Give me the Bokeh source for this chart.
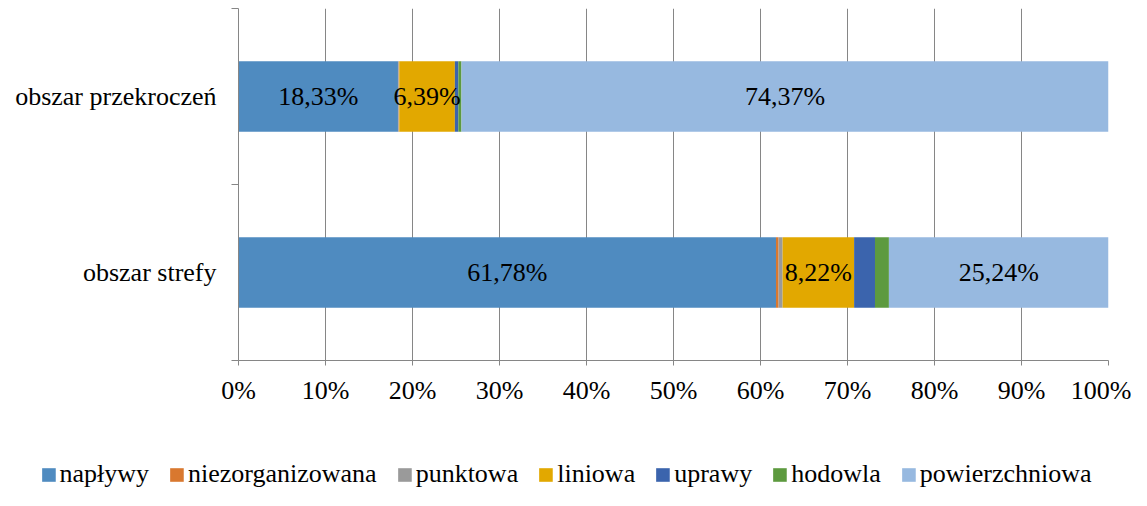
import numpy as np
from bokeh.plotting import figure
from bokeh.layouts import column
from bokeh.models import ColumnDataSource, FixedTicker, Legend, LegendItem, Range1d, LinearAxis
from bokeh.core.properties import value
from bokeh.embed import file_html
from bokeh.resources import INLINE

categories = ["obszar strefy", "obszar przekroczeń"]
series = ["napływy", "niezorganizowana", "punktowa", "liniowa", "uprawy", "hodowla", "powierzchniowa"]
colors = ["#4F8BC0", "#D9782F", "#9A9A9A", "#E2A800", "#3B64AD", "#5D9A3F", "#97B9E0"]
napływy = [61.78, 18.33]
niezorganizowana = [0.30, 0.05]
punktowa = [0.46, 0.10]
liniowa = [8.22, 6.39]
uprawy = [2.40, 0.40]
hodowla = [1.60, 0.36]
powierzchniowa = [25.24, 74.37]
x_ticks = [0, 10, 20, 30, 40, 50, 60, 70, 80, 90, 100]

FONT = "'Liberation Serif', 'Times New Roman', serif"
GRAY = "#868686"
FS = "26px"

vals = [napływy, niezorganizowana, punktowa, liniowa, uprawy, hodowla, powierzchniowa]
ypos = [i + 0.5 for i in range(len(categories))]
data = {"y": ypos}
for name, v in zip(series, vals):
    data[name] = v
src = ColumnDataSource(data)

p = figure(width=1131, height=458, output_backend="svg", toolbar_location=None,
           x_range=Range1d(0, 100), y_range=Range1d(0, len(categories)),
           min_border_left=238, min_border_right=23, min_border_top=8, min_border_bottom=98,
           x_axis_location=None, y_axis_location=None)
p.outline_line_color = None
p.frame_align = False

p.hbar_stack(series, y="y", height=0.4, source=src, color=colors, line_color=None)

# value labels
lx, ly, lt = [], [], []
arr = np.array(vals)
cum = np.cumsum(arr, axis=0)
for j in range(len(categories)):
    for i in range(len(series)):
        v = arr[i, j]
        if v >= 5:
            lx.append(cum[i, j] - v / 2)
            ly.append(ypos[j])
            lt.append(("%.2f" % v).replace(".", ",") + "%")
p.text(x=lx, y=ly, text=lt, text_font=value(FONT), text_font_size=FS,
       text_align="center", text_baseline="middle", text_color="black")

# x axis
xa = LinearAxis(ticker=FixedTicker(ticks=x_ticks))
xa.major_label_overrides = {t: f"{t}%" for t in x_ticks}
xa.axis_line_color = GRAY
xa.major_tick_line_color = GRAY
xa.major_tick_out = 5
xa.major_tick_in = 0
xa.minor_tick_line_color = None
xa.major_label_standoff = 10
xa.major_label_text_font = FONT
xa.major_label_text_font_size = FS
xa.major_label_text_color = "black"
p.add_layout(xa, "below")

# y axis (labels at centres, ticks at boundaries)
ya = LinearAxis(ticker=FixedTicker(ticks=ypos, minor_ticks=list(range(len(categories) + 1))))
ya.major_label_overrides = {y: c for y, c in zip(ypos, categories)}
ya.axis_line_color = GRAY
ya.major_tick_line_color = None
ya.major_tick_out = 0
ya.major_tick_in = 0
ya.minor_tick_line_color = GRAY
ya.minor_tick_out = 7
ya.minor_tick_in = 0
ya.major_label_standoff = 15
ya.major_label_text_font = FONT
ya.major_label_text_font_size = FS
ya.major_label_text_color = "black"
p.add_layout(ya, "left")

p.xgrid.ticker = FixedTicker(ticks=x_ticks)
p.xgrid.grid_line_color = GRAY
p.ygrid.grid_line_color = None

# legend in its own strip below
pl = figure(width=1131, height=32, output_backend="svg", toolbar_location=None,
            x_range=Range1d(0, 1), y_range=Range1d(0, 1),
            min_border=0, x_axis_location=None, y_axis_location=None)
pl.outline_line_color = None
pl.frame_align = False
pl.xgrid.visible = False
pl.ygrid.visible = False
nan = float("nan")
items = []
for s, c in zip(series, colors):
    r = pl.hbar(y=[nan], left=[nan], right=[nan], height=0.5, fill_color=c, line_color=None)
    items.append(LegendItem(label=s, renderers=[r]))
legend = Legend(items=items, orientation="horizontal", location="center")
legend.label_text_font = FONT
legend.label_text_font_size = FS
legend.label_text_color = "black"
legend.glyph_width = 17
legend.glyph_height = 17
legend.label_standoff = 3
legend.spacing = 19
legend.padding = 0
legend.margin = 0
legend.border_line_color = None
legend.background_fill_alpha = 0
pl.add_layout(legend, "center")

layout = column(p, pl, spacing=0)
open("out.html", "w").write(file_html(layout, INLINE))
